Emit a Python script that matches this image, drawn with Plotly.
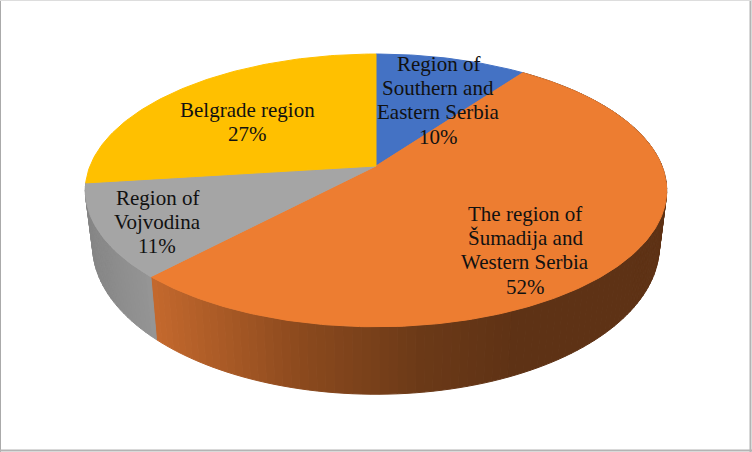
"""3D pie of regional shares, Serbia"""

import math
import plotly.graph_objects as go

regions = [['Region of', 'Southern and', 'Eastern Serbia'],
           ['The region of', 'Šumadija and', 'Western Serbia'],
           ['Region of', 'Vojvodina'],
           ['Belgrade region']]
shares = [10, 52, 11, 27]
top_colors = ['#4472C4', '#ED7D31', '#A5A5A5', '#FFC000']

# first text line centre of each label, in picture pixels
label_x = [438, 525, 157, 247]
label_y = [64, 214, 198, 110]
LINE_STEP = 24.2

# projection of the disc (a perspective view of a circle)
CX, CY = 376, 166
A, B, K = 286, 132, 0.179
# lower rim: narrower and a little more open than the top face
DEPTH_Y, BOTTOM_SX, BOTTOM_SY = 53, 0.975, 1.09


def project(theta, bottom=False):
    u, v = math.sin(theta), math.cos(theta)
    d = 1 + K * v
    x, y = A * u / d, -B * v / d
    if bottom:
        return CX + x * BOTTOM_SX, CY + DEPTH_Y + y * BOTTOM_SY
    return CX + x, CY + y


def lerp_color(stops, x):
    for (x0, c0), (x1, c1) in zip(stops, stops[1:]):
        if x <= x1:
            t = max(0, (x - x0) / (x1 - x0))
            return 'rgb(%d,%d,%d)' % tuple(a + (b - a) * t for a, b in zip(c0, c1))
    return 'rgb(%d,%d,%d)' % stops[-1][1]


orange_side = [(150, (198, 106, 46)), (300, (140, 74, 30)), (420, (108, 58, 24)), (520, (94, 50, 21))]
gray_side = [(90, (134, 134, 134)), (155, (150, 150, 150))]

fig = go.Figure()


def add_poly(xs, ys, color):
    fig.add_trace(go.Scatter(x=xs, y=ys, mode='lines', fill='toself', fillcolor=color,
                             line=dict(color=color, width=1), hoverinfo='skip', showlegend=False))


# slice boundaries, clockwise from 12 o'clock
edges = [0]
for s in shares:
    edges.append(edges[-1] + s / sum(shares) * 2 * math.pi)

# outer wall, only the front part shows
side_stops = {1: orange_side, 2: gray_side}
for i, stops in side_stops.items():
    start = edges[i]
    end = min(edges[i + 1], math.radians(282))
    n = max(2, int(math.degrees(end - start) / 1.5))
    for j in range(n):
        t0 = start + (end - start) * j / n
        t1 = start + (end - start) * (j + 1) / n
        p = [project(t0), project(t1), project(t1, True), project(t0, True)]
        xs = [q[0] for q in p]
        ys = [q[1] for q in p]
        add_poly(xs + xs[:1], ys + ys[:1], lerp_color(stops, sum(xs) / 4))

# top face
for i, color in enumerate(top_colors):
    n = max(4, int(shares[i] * 4))
    pts = [project(edges[i] + (edges[i + 1] - edges[i]) * j / n) for j in range(n + 1)]
    xs = [CX] + [q[0] for q in pts] + [CX]
    ys = [CY] + [q[1] for q in pts] + [CY]
    add_poly(xs, ys, color)

# one annotation per text line, the spacing is tighter than plotly's <br>
for lines, share, x, y in zip(regions, shares, label_x, label_y):
    for k, line in enumerate(lines + ['%d%%' % share]):
        fig.add_annotation(x=x, y=y + k * LINE_STEP, text=line, showarrow=False,
                           font=dict(family='Liberation Serif', size=21, color='#111111'))

# picture frame
fig.add_shape(type='line', x0=0.5, x1=0.5, y0=0, y1=452, line=dict(color='#aaaaaa', width=1))
fig.add_shape(type='line', x0=750.5, x1=750.5, y0=0, y1=452, line=dict(color='#b4b4b4', width=2))
fig.add_shape(type='line', x0=0, x1=752, y0=450.5, y1=450.5, line=dict(color='#b4b4b4', width=2))
fig.add_shape(type='line', x0=0, x1=752, y0=0.5, y1=0.5, line=dict(color='#dddddd', width=1))

fig.update_layout(
    width=752,
    height=452,
    margin=dict(l=0, r=0, t=0, b=0),
    paper_bgcolor='white',
    plot_bgcolor='white',
    showlegend=False,
    xaxis=dict(range=[0, 752], visible=False, fixedrange=True),
    yaxis=dict(range=[452, 0], visible=False, fixedrange=True),
)

fig.write_html("out.html", config=dict(displayModeBar=False),
               post_script="document.body.style.margin='0';document.body.style.overflow='hidden';")
